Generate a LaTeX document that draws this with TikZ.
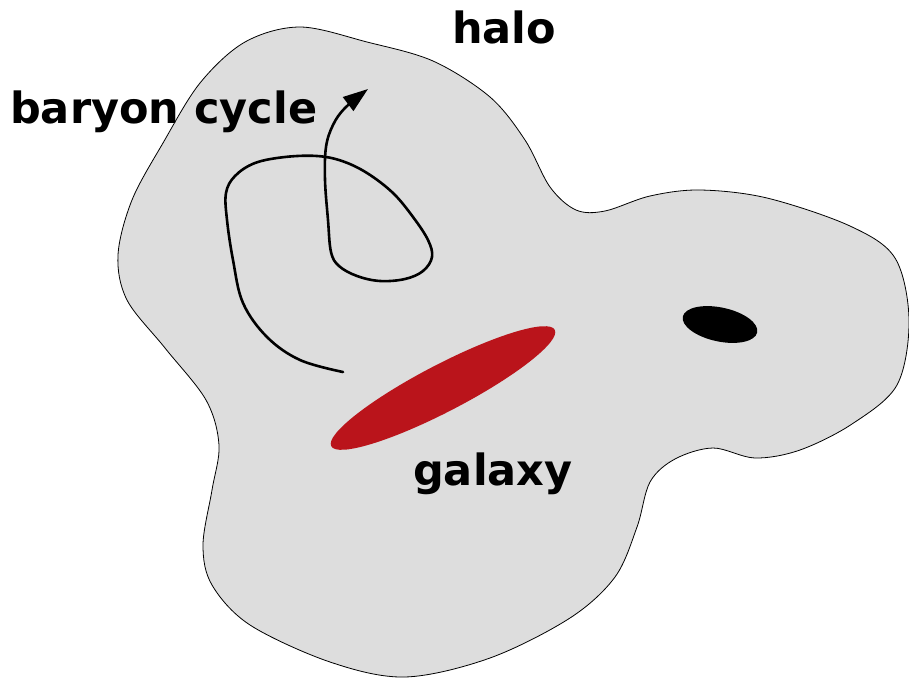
\documentclass[tikz,border=0pt]{standalone}
\usepackage{fontspec}
\setmainfont{DejaVu Sans}
\usetikzlibrary{arrows.meta}
\definecolor{halogray}{RGB}{221,221,221}
\definecolor{galred}{RGB}{186,20,27}
\begin{document}
\begin{tikzpicture}[x=1pt,y=-1pt,
  lbl/.style={font=\fontsize{43}{50}\selectfont\bfseries, inner sep=0pt, anchor=base west},
  halostyle/.style={fill=halogray, draw=black, line width=0.8pt},
  cyc/.style={line width=2.6pt, line cap=round, -{Triangle[length=25pt,width=17pt]}}]
\useasboundingbox (0,0) rectangle (909,680);
% halo outline
\draw[halostyle] plot[smooth cycle, tension=0.55] coordinates {
 (300,27) (367,42) (433,61) (490,97) (525,140) (550,187) (576,210) (605,211)
 (650,196) (700,190) (767,198) (850,226) (895,258) (909,320) (897,385)
 (852,424) (800,450) (755,458) (713,448) (675,459) (650,482) (637,527)
 (615,577) (570,618) (490,658) (405,677) (330,662) (250,625) (212,585)
 (203,545) (212,490) (219,445) (206,400) (165,348) (127,300) (118,255)
 (132,200) (163,143) (200,83) (245,42)};
% galaxy
\fill[galred, rotate around={27.5:(443,388)}] (443,388) ellipse [x radius=126, y radius=23.5];
% black blob
\fill[black, rotate around={-12:(720,324.5)}] (720,324.5) ellipse [x radius=38, y radius=17];
% baryon cycle curve
\draw[cyc] plot[smooth, tension=0.6] coordinates {
 (343,372) (300,360) (267,337) (243,303) (233,260) (227,220) (226,193) (235,176)
 (255,163) (285,157) (317,156) (342,161) (367,173) (393,193) (413,217) (428,240)
 (432,257) (423,271) (405,279) (380,281) (357,276) (339,266) (331,252) (328,220)
 (325,180) (326,147) (333,125) (345,108) (368,89)};
% labels
\node[lbl] (halo) at (452,43) {halo};
\node[lbl] (baryon) at (10,123) {baryon cycle};
\node[lbl] (galaxy) at (413,485) {galaxy};
\end{tikzpicture}
\end{document}
